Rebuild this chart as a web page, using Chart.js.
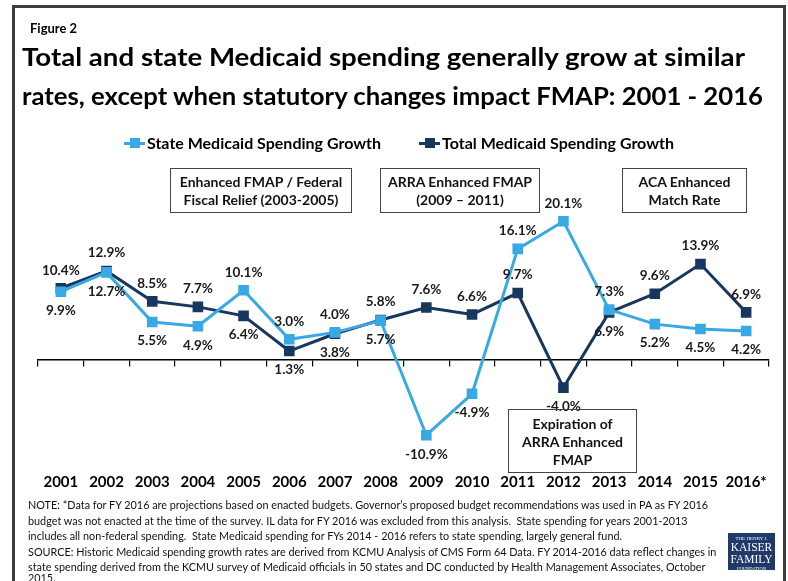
<!DOCTYPE html>
<html><head><meta charset="utf-8">
<script src="https://cdn.jsdelivr.net/npm/chart.js@4.4.0/dist/chart.umd.min.js"></script>
<style>
html,body{margin:0;padding:0;background:#fff;}
body{width:788px;height:581px;position:relative;overflow:hidden;font-family:Lato,"Open Sans",sans-serif;color:#000;}
#frame{position:absolute;left:12px;top:5px;width:768px;height:620px;border:3px solid #3d3d3d;}
#c{position:absolute;left:0;top:0;width:788px;height:581px;}
.t{position:absolute;white-space:nowrap;transform-origin:0 50%;font-weight:bold;}
.box{position:absolute;border:1.3px solid #444;text-align:center;font-weight:bold;font-size:14px;color:#111;box-sizing:border-box;}
.box span{display:inline-block;white-space:nowrap;transform-origin:50% 50%;line-height:18px;}
.leg{position:absolute;height:20px;}
.mk{position:absolute;top:8.5px;width:21px;height:3px;}
.mk i{position:absolute;left:5.5px;top:-3.5px;width:10px;height:10px;}
.note{position:absolute;left:28px;white-space:nowrap;font-size:12px;line-height:15px;transform-origin:0 50%;color:#111;}
#logo{position:absolute;left:728px;top:533px;width:47px;height:37px;background:#1f3a68;color:#fff;font-family:"Liberation Serif",serif;text-align:center;line-height:1;}
</style></head>
<body>
<div id="frame"></div>
<canvas id="c" width="788" height="581"></canvas>

<div class="t" style="left:30px;top:20px;font-size:13px;line-height:16px;">Figure 2</div>
<div class="t" data-w="723" style="left:22px;top:41px;font-size:25.5px;line-height:30px;">Total and state Medicaid spending generally grow at similar</div>
<div class="t" data-w="741" style="left:22px;top:80px;font-size:25.5px;line-height:30px;">rates, except when statutory changes impact FMAP: 2001 - 2016</div>

<div class="leg" style="left:124px;top:133px;"><div class="mk" style="background:#38a9e4"><i style="background:#38a9e4"></i></div></div>
<div class="t" data-w="234" style="left:147px;top:133px;font-size:15px;line-height:20px;">State Medicaid Spending Growth</div>
<div class="leg" style="left:419px;top:133px;"><div class="mk" style="background:#17375e"><i style="background:#17375e"></i></div></div>
<div class="t" data-w="232" style="left:442px;top:133px;font-size:15px;line-height:20px;">Total Medicaid Spending Growth</div>

<div class="box" style="left:170px;top:168px;width:182px;height:45px;padding-top:4px;"><span>Enhanced FMAP / Federal</span><br><span>Fiscal Relief (2003-2005)</span></div>
<div class="box" style="left:380px;top:168px;width:160px;height:45px;padding-top:4px;"><span>ARRA Enhanced FMAP</span><br><span>(2009 – 2011)</span></div>
<div class="box" style="left:622px;top:168px;width:125px;height:45px;padding-top:4px;"><span>ACA Enhanced</span><br><span>Match Rate</span></div>
<div class="box" style="left:508px;top:409px;width:129px;height:64px;padding-top:5px;"><span>Expiration of</span><br><span>ARRA Enhanced</span><br><span>FMAP</span></div>

<div class="note" id="n1" style="top:497px;">NOTE: *Data for FY 2016 are projections based on enacted budgets. Governor’s proposed budget recommendations was used in PA as FY 2016</div>
<div class="note" style="top:513px;">budget was not enacted at the time of the survey. IL data for FY 2016 was excluded from this analysis.&nbsp; State spending for years 2001-2013</div>
<div class="note" style="top:528px;">includes all non-federal spending.&nbsp; State Medicaid spending for FYs 2014 - 2016 refers to state spending, largely general fund.</div>
<div class="note" style="top:544px;">SOURCE: Historic Medicaid spending growth rates are derived from KCMU Analysis of CMS Form 64 Data. FY 2014-2016 data reflect changes in</div>
<div class="note" style="top:559px;">state spending derived from the KCMU survey of Medicaid officials in 50 states and DC conducted by Health Management Associates, October</div>
<div class="note" style="top:570px;">2015.</div>

<div id="logo"><div style="font-size:5px;margin-top:3px;">THE HENRY J.</div><div style="font-size:11.5px;margin-top:1px;">KAISER</div><div style="font-size:11.5px;">FAMILY</div><div style="font-size:4.5px;margin-top:2px;">FOUNDATION</div></div>

<script>
// ---- data ----
const years = ['2001','2002','2003','2004','2005','2006','2007','2008','2009','2010','2011','2012','2013','2014','2015','2016*'];
const seriesNames = ['State Medicaid Spending Growth','Total Medicaid Spending Growth'];
const stateGrowth = [9.9,12.7,5.5,4.9,10.1,3.0,4.0,5.7,-10.9,-4.9,16.1,20.1,7.3,5.2,4.5,4.2];
const totalGrowth = [10.4,12.9,8.5,7.7,6.4,1.3,3.8,5.8,7.6,6.6,9.7,-4.0,6.9,9.6,13.9,6.9];

// fit HTML text widths
document.querySelectorAll('[data-w]').forEach(el=>{
  const w = el.getBoundingClientRect().width;
  el.style.transform = 'scaleX(' + (+el.dataset.w / w) + ')';
});
(function(){
  const n1 = document.getElementById('n1');
  const f = 680 / n1.getBoundingClientRect().width;
  document.querySelectorAll('.note').forEach(el=>{ el.style.transform='scaleX('+f+')'; });
})();

const valueLabels = {
  id: 'valueLabels',
  afterDatasetsDraw(chart, args, opts) {
    const ctx = chart.ctx;
    ctx.save();
    ctx.font = opts.font;
    ctx.fillStyle = opts.color;
    ctx.textAlign = 'center';
    ctx.textBaseline = 'middle';
    chart.data.datasets.forEach((ds, di) => {
      const meta = chart.getDatasetMeta(di);
      const sides = opts.sides[di];
      meta.data.forEach((pt, i) => {
        const dy = sides[i] === 'above' ? -opts.above : opts.below;
        ctx.fillText(ds.data[i].toFixed(1) + '%', pt.x, pt.y + dy);
      });
    });
    ctx.restore();
  }
};

new Chart(document.getElementById('c'), {
  type: 'line',
  data: {
    labels: years,
    datasets: [
      { label: seriesNames[0], data: stateGrowth, borderColor:'#38a9e4', backgroundColor:'#38a9e4',
        borderWidth:3, pointStyle:'rect', pointRadius:7.5, pointBorderWidth:0, tension:0 },
      { label: seriesNames[1], data: totalGrowth, borderColor:'#17375e', backgroundColor:'#17375e',
        borderWidth:3, pointStyle:'rect', pointRadius:7.5, pointBorderWidth:0, tension:0 }
    ]
  },
  options: {
    responsive:false, animation:false, devicePixelRatio:1,
    layout:{ padding:{ left:38, right:19, top:187.5, bottom:87.5 } },
    plugins:{
      legend:{ display:false }, tooltip:{ enabled:false },
      valueLabels:{
        font:'bold 13.5px Lato', color:'#1a1a1a', above:18, below:19,
        sides:[
          ['below','below','below','below','above','above','above','below','below','below','above','above','above','below','below','below'],
          ['above','above','above','above','below','below','below','above','above','above','above','below','below','above','above','above']
        ]
      }
    },
    scales:{
      x:{ type:'category', position:{ y:0 }, offset:true,
          grid:{ offset:true, drawOnChartArea:false, drawTicks:true, tickLength:6, color:'#000', lineWidth:1.2 },
          border:{ display:true, color:'#000', width:1.5 },
          ticks:{ display:false } },
      xLabels:{ type:'category', position:'bottom', offset:true,
          grid:{ display:false, drawTicks:false }, border:{ display:false },
          ticks:{ font:{ family:'Lato', weight:'bold', size:15 }, color:'#000', padding:10, maxRotation:0, autoSkip:false },
          afterFit(s){ s.height = 30; } },
      y:{ display:false, min:-15, max:25 }
    }
  },
  plugins:[valueLabels]
});
</script>
</body></html>
